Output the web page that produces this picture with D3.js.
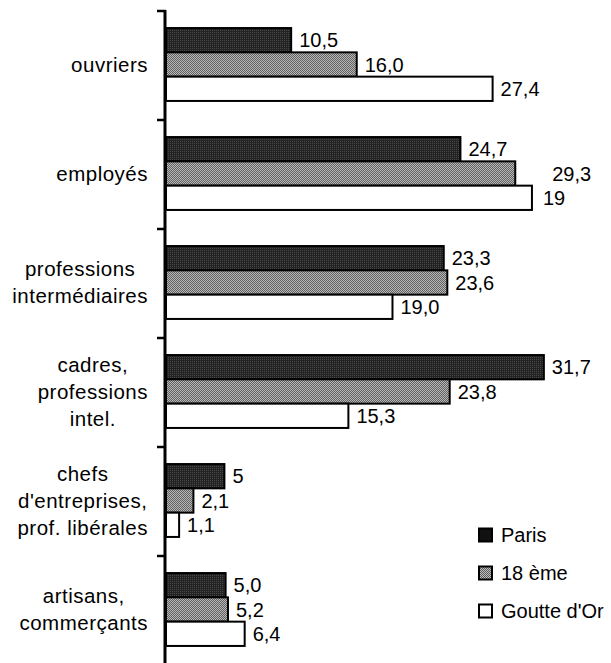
<!DOCTYPE html>
<html>
<head>
<meta charset="utf-8">
<script src="https://cdn.jsdelivr.net/npm/d3@7"></script>
<style>
  html, body { margin: 0; padding: 0; background: #fff; }
  svg { display: block; }
  text { font-family: Arial, "Liberation Sans", sans-serif; fill: #000; }
</style>
</head>
<body>
<script>
// ---- data ----
const categories = [
  ["ouvriers"],
  ["employés"],
  ["professions", "intermédiaires"],
  ["cadres,", "professions", "intel."],
  ["chefs", "d'entreprises,", "prof. libérales"],
  ["artisans,", "commerçants"]
];
const seriesNames = ["Paris", "18 ème", "Goutte d'Or"];
// bar lengths as drawn in the picture
const parisValues  = [10.5, 24.7, 23.3, 31.7, 4.9, 5.0];
const dix8Values   = [16.0, 29.3, 23.6, 23.8, 2.3, 5.2];
const goutteValues = [27.4, 30.7, 19.0, 15.3, 1.1, 6.6];
// value labels as printed
const parisLabels  = ["10,5", "24,7", "23,3", "31,7", "5", "5,0"];
const dix8Labels   = ["16,0", "29,3", "23,6", "23,8", "2,1", "5,2"];
const goutteLabels = ["27,4", "19", "19,0", "15,3", "1,1", "6,4"];

const W = 611, H = 663;
const svg = d3.select("body").append("svg").attr("width", W).attr("height", H);

// dithered fills
const defs = svg.append("defs");
const pDark = defs.append("pattern").attr("id", "pDark").attr("patternUnits", "userSpaceOnUse")
  .attr("width", 2).attr("height", 2);
pDark.append("rect").attr("width", 2).attr("height", 2).attr("fill", "#222");
pDark.append("rect").attr("width", 1).attr("height", 1).attr("fill", "#4a4a4a");
const pGrey = defs.append("pattern").attr("id", "pGrey").attr("patternUnits", "userSpaceOnUse")
  .attr("width", 2).attr("height", 2);
pGrey.append("rect").attr("width", 2).attr("height", 2).attr("fill", "#bdbdbd");
pGrey.append("rect").attr("width", 1).attr("height", 1).attr("fill", "#5c5c5c");
pGrey.append("rect").attr("x", 1).attr("y", 1).attr("width", 1).attr("height", 1).attr("fill", "#5c5c5c");

const fills = ["url(#pDark)", "url(#pGrey)", "#fff"];
const legendFills = ["#111", "url(#pGrey)", "#fff"];

const values = [parisValues, dix8Values, goutteValues];
const labels = [parisLabels, dix8Labels, goutteLabels];

const idx = d3.range(categories.length);
const x = d3.scaleLinear().domain([0, 35]).range([166, 166 + 35 * 11.92]);
const y = d3.scaleBand().domain(idx).range([10, 664]).paddingInner(0).paddingOuter(0);
const barH = 24.3;
const yS = d3.scaleBand().domain(d3.range(3)).range([0, barH * 3]);

const groups = svg.append("g").selectAll("g").data(idx).join("g")
  .attr("transform", i => `translate(0,${y(i) + (y.bandwidth() - barH * 3) / 2})`);

groups.each(function (i) {
  const g = d3.select(this);
  d3.range(3).forEach(s => {
    const v = values[s][i];
    g.append("rect")
      .attr("x", x(0))
      .attr("y", yS(s))
      .attr("width", x(v) - x(0))
      .attr("height", yS.bandwidth())
      .attr("fill", fills[s])
      .attr("stroke", "#000")
      .attr("stroke-width", 2);
    let dx = 8;
    if (i === 1 && s === 1) dx = 37;
    if (i === 1 && s === 2) dx = 11;
    g.append("text")
      .attr("x", x(v) + dx)
      .attr("y", yS(s) + yS.bandwidth() / 2)
      .attr("dy", "0.36em")
      .attr("font-size", 20)
      .text(labels[s][i]);
  });
});

// axis
const axisG = svg.append("g");
axisG.append("line").attr("x1", 165).attr("x2", 165).attr("y1", 10).attr("y2", H)
  .attr("stroke", "#000").attr("stroke-width", 3);
d3.range(categories.length + 1).forEach(k => {
  const yy = k < categories.length ? y(k) : y(categories.length - 1) + y.bandwidth();
  axisG.append("line").attr("x1", 157).attr("x2", 166).attr("y1", yy + 1).attr("y2", yy + 1)
    .attr("stroke", "#000").attr("stroke-width", 2.5);
});

// category labels: block right aligned at 148, lines centered within block
const lineH = 27;
idx.forEach(i => {
  const lines = categories[i];
  const cy = y(i) + y.bandwidth() / 2;
  const t = svg.append("text").attr("font-size", 20.5).attr("letter-spacing", 0.5)
    .attr("text-anchor", "middle");
  const tspans = lines.map((ln, j) => t.append("tspan").text(ln)
    .attr("y", cy + (j - (lines.length - 1) / 2) * lineH).attr("dy", "0.36em"));
  const maxW = d3.max(tspans, ts => ts.node().getComputedTextLength());
  const cx = 148 - maxW / 2;
  tspans.forEach(ts => ts.attr("x", cx));
});

// legend
const legY = [535, 573, 611];
seriesNames.forEach((name, s) => {
  svg.append("rect").attr("x", 479).attr("y", legY[s] - 6.5).attr("width", 13).attr("height", 13)
    .attr("fill", legendFills[s]).attr("stroke", "#000").attr("stroke-width", 2);
  svg.append("text").attr("x", 501).attr("y", legY[s]).attr("dy", "0.36em")
    .attr("font-size", 20).text(name);
});
</script>
</body>
</html>
